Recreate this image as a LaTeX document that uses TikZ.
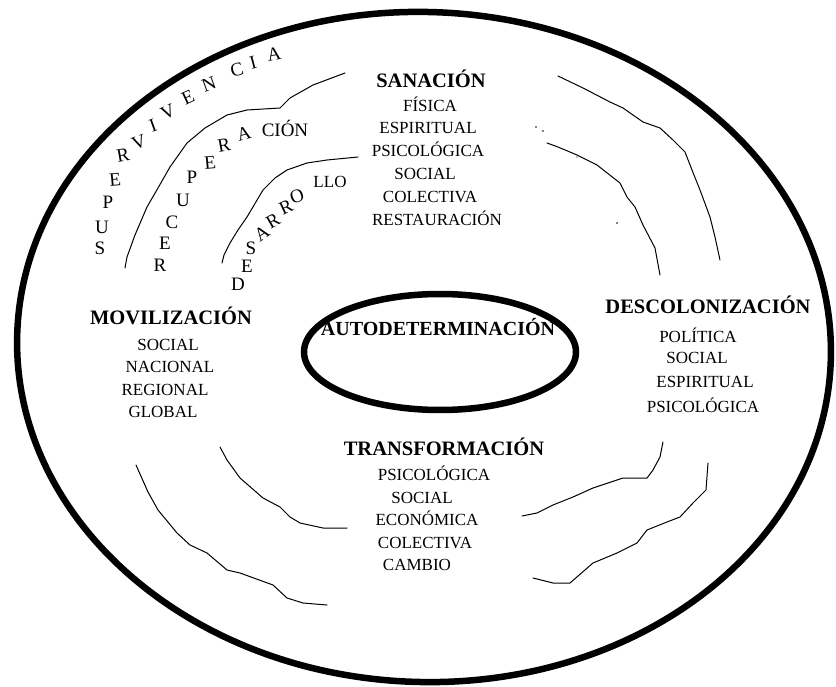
\documentclass[tikz,border=0pt]{standalone}
\usepackage{fontspec}
\setmainfont{Liberation Serif}
\newfontfamily\hdfont{Liberation Serif}
\newfontfamily\itfont{Liberation Serif}
\newfontfamily\arcfont{Liberation Serif}
\tikzset{
  hd/.style={font=\hdfont\bfseries\fontsize{20.5}{20.5}\selectfont, inner sep=0pt, anchor=base},
  itm/.style={font=\itfont\fontsize{17}{17}\selectfont, inner sep=0pt, anchor=base},
  arcl/.style={font=\arcfont\fontsize{19}{19}\selectfont, inner sep=0pt},
  wave/.style={line width=1pt, line join=round, line cap=round},
  ring/.style={line width=6.5pt},
}
\begin{document}
\begin{tikzpicture}[x=1pt,y=-1pt]
\path[use as bounding box, fill=white] (0,0) rectangle (836,687);
% rings
\draw[ring, rotate around={-2:(424,347)}] (424,347) ellipse [x radius=407, y radius=335];
\draw[ring] (440,352) ellipse [x radius=136, y radius=58];
% wavy separators
\draw[wave] (125,268) -- (127,257) -- (135,235) -- (147,207) -- (158,188) -- (170,167) -- (187,143) -- (205,128) -- (227,115) -- (247,110) -- (280,108) -- (290,98) -- (313,85) -- (345,73);
\draw[wave] (222,263) -- (224,255) -- (230,243) -- (238,230) -- (247,217) -- (263,190) -- (275,178) -- (287,170) -- (307,163) -- (327,160) -- (358,157);
\draw[wave] (558,76) -- (583,88) -- (610,102) -- (623,108) -- (643,122) -- (660,128) -- (673,140) -- (685,152) -- (692,170) -- (700,190) -- (710,217) -- (715,237) -- (720,260);
\draw[wave] (547,143) -- (558,147) -- (577,155) -- (597,165) -- (620,183) -- (627,197) -- (635,207) -- (643,225) -- (655,248) -- (660,275);
\draw[wave] (220,447) -- (227,460) -- (240,478) -- (263,498) -- (280,507) -- (290,517) -- (300,523) -- (323,528) -- (347,528);
\draw[wave] (136,465) -- (148,492) -- (158,510) -- (177,533) -- (190,545) -- (207,553) -- (227,570) -- (240,573) -- (273,585) -- (287,598) -- (303,603) -- (327,605);
\draw[wave] (663,442) -- (660,457) -- (653,470) -- (647,478) -- (623,478) -- (593,488) -- (573,497) -- (553,505) -- (537,513) -- (522,516);
\draw[wave] (708,463) -- (706,490) -- (693,503) -- (680,517) -- (667,522) -- (647,530) -- (637,543) -- (617,553) -- (593,563) -- (570,583) -- (553,583) -- (533,578);
\fill (536,127) circle (0.8) (543,131) circle (0.8) (617,223) circle (0.8) (577,157) circle (0.6);
% centre
\node[hd, font=\hdfont\bfseries\fontsize{20}{20}\selectfont] (auto) at (438,336) {AUTODETERMINACIÓN};
% SANACION
\node[hd] (san) at (431,88) {SANACIÓN};
\node[itm] (san1) at (430,112) {FÍSICA};
\node[itm] (san2) at (428,134) {ESPIRITUAL};
\node[itm] (san3) at (428,157) {PSICOLÓGICA};
\node[itm] (san4) at (425,180) {SOCIAL};
\node[itm] (san5) at (430,203) {COLECTIVA};
\node[itm] (san6) at (437,226) {RESTAURACIÓN};
% MOVILIZACION
\node[hd] (mov) at (171,325) {MOVILIZACIÓN};
\node[itm] (mov1) at (168,350) {SOCIAL};
\node[itm] (mov2) at (170,372) {NACIONAL};
\node[itm] (mov3) at (165,395) {REGIONAL};
\node[itm] (mov4) at (163,417) {GLOBAL};
% DESCOLONIZACION
\node[hd] (des) at (708,313) {DESCOLONIZACIÓN};
\node[itm] (des1) at (698,342) {POLÍTICA};
\node[itm] (des2) at (697,363) {SOCIAL};
\node[itm] (des3) at (705,387) {ESPIRITUAL};
\node[itm] (des4) at (703,412) {PSICOLÓGICA};
% TRANSFORMACION
\node[hd] (tra) at (444,455) {TRANSFORMACIÓN};
\node[itm] (tra1) at (434,480) {PSICOLÓGICA};
\node[itm] (tra2) at (422,503) {SOCIAL};
\node[itm] (tra3) at (427,525) {ECONÓMICA};
\node[itm] (tra4) at (425,548) {COLECTIVA};
\node[itm] (tra5) at (417,570) {CAMBIO};
% SUPERVIVENCIA
\node[arcl] (sv1) at (100,248) {S};
\node[arcl] (sv2) at (102,227) {U};
\node[arcl] (sv3) at (108,202) {P};
\node[arcl, rotate=5] (sv4) at (115,180) {E};
\node[arcl, rotate=10] (sv5) at (123,155) {R};
\node[arcl, rotate=20] (sv6) at (139,142) {V};
\node[arcl, rotate=20] (sv7) at (153,126) {I};
\node[arcl, rotate=25] (sv8) at (168,112) {V};
\node[arcl, rotate=25] (sv9) at (188,97) {E};
\node[arcl, rotate=20] (sv10) at (209,84) {N};
\node[arcl, rotate=15] (sv11) at (237,70) {C};
\node[arcl, rotate=15] (sv12) at (253,63) {I};
\node[arcl, rotate=10] (sv13) at (274,54) {A};
% RECUPERACION
\node[arcl] (rc1) at (160,265) {R};
\node[arcl] (rc2) at (165,243) {E};
\node[arcl] (rc3) at (172,222) {C};
\node[arcl] (rc4) at (183,200) {U};
\node[arcl] (rc5) at (192,177) {P};
\node[arcl, rotate=5] (rc6) at (210,163) {E};
\node[arcl, rotate=10] (rc7) at (224,145) {R};
\node[arcl, rotate=15] (rc8) at (244,134) {A};
\node[arcl] (rc9) at (285,128) {CIÓN};
% DESARROLLO
\node[arcl] (ds1) at (238,284) {D};
\node[arcl] (ds2) at (247,266) {E};
\node[arcl] (ds3) at (251,248) {S};
\node[arcl, rotate=35] (ds4) at (262,233) {A};
\node[arcl, rotate=30] (ds5) at (273,221) {R};
\node[arcl, rotate=25] (ds6) at (286,207) {R};
\node[arcl, rotate=20] (ds7) at (297,196) {O};
\node[arcl, font=\arcfont\fontsize{17}{17}\selectfont] (ds8) at (330,182) {LLO};
\end{tikzpicture}
\end{document}
